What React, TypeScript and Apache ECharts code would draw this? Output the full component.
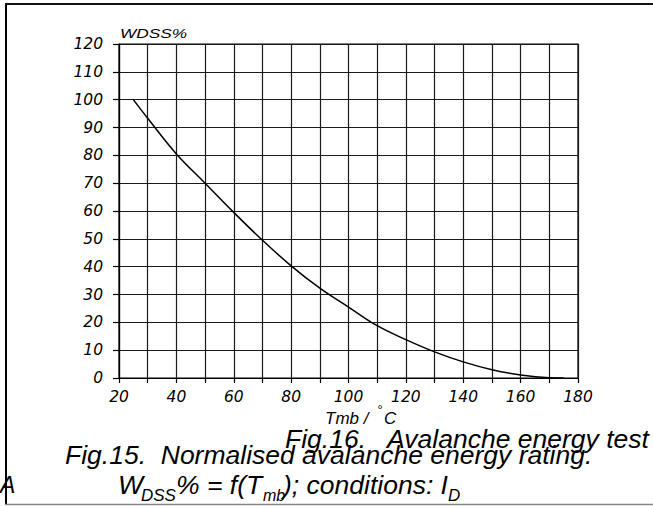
import React, { useEffect, useRef } from 'react';
import * as echarts from 'echarts';

const temperature = [25, 30, 40, 50, 60, 70, 80, 90, 100, 110, 120, 130, 140, 150, 160, 170, 175];
const wdssPercent = [100, 93.3, 80.5, 70, 59.5, 49.5, 40.3, 32.3, 25.5, 18.8, 13.8, 9.4, 5.8, 3.0, 1.1, 0.1, 0];
const xTickLabels = [20, 40, 60, 80, 100, 120, 140, 160, 180];
const yTickLabels = [0, 10, 20, 30, 40, 50, 60, 70, 80, 90, 100, 110, 120];

const CAP_FONT = '"Liberation Sans", Arial, sans-serif';
const TICK_FONT = '"DejaVu Sans", sans-serif';

function txt(text: string, x: number, y: number, size: number, extra: any = {}) {
  return {
    type: 'text',
    x,
    y,
    silent: true,
    ...extra,
    style: {
      text,
      x: 0,
      y: 0,
      fill: '#000',
      fontFamily: CAP_FONT,
      fontStyle: 'italic',
      fontSize: size,
      align: 'left',
      verticalAlign: 'middle',
    },
  };
}

export default function App() {
  const ref = useRef<HTMLDivElement>(null);
  useEffect(() => {
    const chart = echarts.init(ref.current!, null, { renderer: 'svg' });
    chart.setOption({
      animation: false,
      backgroundColor: '#fff',
      grid: {
        left: 119,
        top: 44,
        width: 459,
        height: 334,
        show: true,
        borderColor: '#000',
        borderWidth: 1.2,
        backgroundColor: 'transparent',
      },
      xAxis: {
        type: 'value',
        min: 20,
        max: 180,
        interval: 10,
        axisLine: { show: true, lineStyle: { color: '#000', width: 1.2 } },
        axisTick: { show: true, length: 5, lineStyle: { color: '#000', width: 1.2 } },
        splitLine: { show: true, lineStyle: { color: '#1a1a1a', width: 1.2 } },
        axisLabel: {
          formatter: (v: number) => (xTickLabels.includes(v) ? String(v) : ''),
          fontFamily: TICK_FONT,
          fontStyle: 'italic',
          fontSize: 15.5,
          color: '#000',
          margin: 11,
        },
      },
      yAxis: {
        type: 'value',
        min: 0,
        max: 120,
        interval: 10,
        axisLine: { show: true, lineStyle: { color: '#000', width: 1.2 } },
        axisTick: { show: true, length: 6, lineStyle: { color: '#000', width: 1.2 } },
        splitLine: { show: true, lineStyle: { color: '#1a1a1a', width: 1.2 } },
        axisLabel: {
          formatter: (v: number) => (yTickLabels.includes(v) ? String(v) : ''),
          fontFamily: TICK_FONT,
          fontStyle: 'italic',
          fontSize: 15.5,
          color: '#000',
          margin: 16,
        },
      },
      series: [
        {
          type: 'line',
          data: temperature.map((t, i) => [t, wdssPercent[i]]),
          showSymbol: false,
          smooth: 0.4,
          lineStyle: { color: '#000', width: 1.5 },
        },
      ],
      graphic: [
        { type: 'line', silent: true, shape: { x1: 6, y1: 3, x2: 6, y2: 505 }, style: { stroke: '#000', lineWidth: 2 } },
        { type: 'line', silent: true, shape: { x1: 5, y1: 4, x2: 653, y2: 4 }, style: { stroke: '#111', lineWidth: 2 } },
        { type: 'line', silent: true, shape: { x1: 5, y1: 504.5, x2: 653, y2: 504.5 }, style: { stroke: '#888', lineWidth: 1.5 } },
        txt('WDSS%', 120, 33.7, 12.5, { scaleX: 1.38 }),
        txt('Tmb /', 325, 418, 17),
        txt('°', 377, 409, 13),
        txt('C', 384, 418, 17),
        txt('Fig.16.   Avalanche energy test', 285, 439, 26.5),
        txt('Fig.15.  Normalised avalanche energy rating.', 65, 455, 26.5),
        txt('A', 0, 485, 23),
        txt('W', 118, 485, 26.5),
        txt('DSS', 141, 495, 17),
        txt('% = f(T', 176, 485, 26.5),
        txt('mb', 263, 495, 16),
        txt('); conditions: I', 283, 485, 26.5),
        txt('D', 448, 495, 17),
      ],
    });
    return () => chart.dispose();
  }, []);
  return <div ref={ref} style={{ position: 'fixed', left: 0, top: 0, width: 653, height: 506 }} />;
}
